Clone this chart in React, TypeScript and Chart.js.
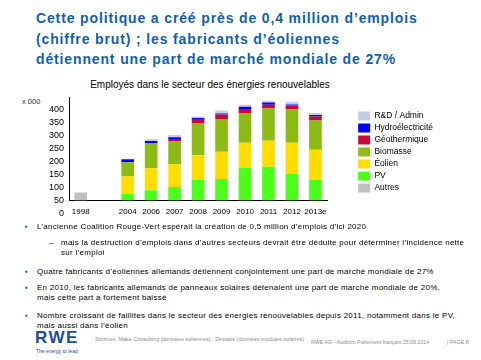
import React, { useEffect, useRef } from 'react';
import { Chart, registerables } from 'chart.js';

Chart.register(...registerables);

// ---- Data ----
const categories = ['1998', '', '2004', '2006', '2007', '2008', '2009', '2010', '2011', '2012', '2013e'];
const autres = [31, null, null, null, null, null, null, null, null, null, null];
const pv = [null, null, 24.6, 38.9, 52, 79, 83, 125.8, 129.7, 102.5, 79.1];
const eolien = [null, null, 68.8, 85.6, 88, 96, 105, 97.2, 101.2, 120.5, 116.7];
const biomasse = [null, null, 54.5, 97.3, 89.6, 124.5, 127.2, 115.5, 124.5, 128.5, 112.9];
const geothermie = [null, null, 0, 0, 7.8, 15.6, 16.8, 15.5, 14.2, 15.5, 15.6];
const hydro = [null, null, 11.6, 7.8, 6.6, 3.8, 4, 7.9, 9.1, 4, 6.4];
const rdAdmin = [null, null, 0, 7.8, 8.9, 5.3, 11.6, 7.7, 6.5, 10.3, 7.8];

const yTickLabels = ['0', '50', '100', '150', '200', '250', '300', '350', '400'];
const seriesNames = ['Autres', 'PV', 'Éolien', 'Biomasse', 'Géothermique', 'Hydroélectricité', 'R&D / Admin'];
const seriesColors = ['#C0C0C0', '#4CFF1A', '#FFDD00', '#8DBA14', '#C8073C', '#0000FF', '#C5CCE8'];
const seriesData = [autres, pv, eolien, biomasse, geothermie, hydro, rdAdmin];

const FONT = '"Liberation Sans", Arial, sans-serif';

const zeroLabelPlugin = {
  id: 'zeroLabel',
  afterDraw(chart: any) {
    const y = chart.scales.y;
    const ctx = chart.ctx;
    ctx.save();
    ctx.font = '9px "Liberation Sans"';
    ctx.fillStyle = '#000';
    ctx.textAlign = 'right';
    ctx.textBaseline = 'middle';
    ctx.fillText(yTickLabels[0], y.right - 5, y.getPixelForValue(-50));
    ctx.restore();
  },
};

function ChartCanvas() {
  const ref = useRef<HTMLCanvasElement>(null);
  useEffect(() => {
    if (!ref.current) return;
    const chart = new Chart(ref.current, {
      type: 'bar',
      data: {
        labels: categories,
        datasets: seriesData.map((d, i) => ({
          label: seriesNames[i],
          data: d,
          backgroundColor: seriesColors[i],
          borderWidth: 0,
          categoryPercentage: 1,
          barPercentage: 0.54,
          xAxisID: 'x',
          yAxisID: 'y',
        })),
      },
      options: {
        responsive: false,
        animation: false,
        layout: { padding: { left: 44, top: 0, right: 38, bottom: 2 } },
        plugins: {
          legend: {
            position: 'right',
            reverse: true,
            labels: {
              boxWidth: 12,
              boxHeight: 9,
              padding: 3,
              color: '#000',
              font: { family: FONT, size: 8.5 },
            },
          },
          title: { display: false },
          tooltip: { enabled: false },
        },
        scales: {
          x: {
            stacked: true,
            grid: { display: false, drawTicks: false },
            border: { display: true, color: '#000', width: 1 },
            ticks: { color: '#000', font: { family: FONT, size: 8 }, padding: 7, maxRotation: 0, autoSkip: false },
          },
          y: {
            stacked: true,
            min: 0,
            max: 400,
            grid: { display: false, drawTicks: false },
            border: { display: true, color: '#000', width: 1 },
            ticks: {
              stepSize: 50,
              autoSkip: false,
              color: '#000',
              padding: 5,
              font: { family: FONT, size: 9 },
              callback: (_v: any, i: number) => yTickLabels[i + 1] ?? '',
            },
          },
          gap: {
            type: 'linear',
            position: 'right',
            display: false,
            afterFit: (scale: any) => {
              scale.width = 28;
            },
          },
          topGap: {
            type: 'category',
            position: 'top',
            display: false,
            afterFit: (scale: any) => {
              scale.height = 17;
            },
          },
        },
      },
      plugins: [zeroLabelPlugin],
    });
    return () => chart.destroy();
  }, []);
  return (
    <canvas
      ref={ref}
      width={481}
      height={146}
      style={{ position: 'absolute', left: 0, top: 80, width: 481, height: 146 }}
    />
  );
}

const bulletStyle: React.CSSProperties = {
  position: 'absolute',
  left: 25,
  color: '#1A5EA8',
  fontSize: 8,
};

export default function App() {
  const textBase: React.CSSProperties = {
    position: 'absolute',
    fontFamily: FONT,
    fontSize: 8,
    letterSpacing: 0.27,
    lineHeight: '10px',
    color: '#000',
    whiteSpace: 'nowrap',
  };
  const bullets = [
    { top: 222, lines: ['L’ancienne Coalition Rouge-Vert espérait la création de 0,5 million d’emplois d’ici 2020'] },
    { top: 267, lines: ['Quatre fabricants d’éoliennes allemands détiennent conjointement une part de marché mondiale de 27%'] },
    { top: 283, lines: ['En 2010, les fabricants allemands de panneaux solaires détenaient une part de marché mondiale de 20%,', 'mais cette part a fortement baissé'] },
    { top: 311, lines: ['Nombre croissant de faillites dans le secteur des énergies renouvelables depuis 2011, notamment dans le PV,', 'mais aussi dans l’éolien'] },
  ];
  return (
    <div style={{ position: 'absolute', left: 0, top: 0, width: 481, height: 360, background: '#fff', fontFamily: FONT, overflow: 'hidden' }}>
      <div
        style={{
          position: 'absolute',
          left: 36,
          top: 8,
          fontSize: 14,
          lineHeight: '20.5px',
          fontWeight: 'bold',
          color: '#105FAF',
          whiteSpace: 'nowrap',
          letterSpacing: 0.86,
        }}
      >
        Cette politique a créé près de 0,4 million d’emplois<br />
        (chiffre brut) ; les fabricants d’éoliennes<br />
        détiennent une part de marché mondiale de 27%
      </div>

      <div
        style={{
          position: 'absolute',
          left: 60,
          width: 300,
          top: 78,
          textAlign: 'center',
          fontSize: 10,
          lineHeight: '14px',
          color: '#000',
          whiteSpace: 'nowrap',
        }}
      >
        Employés dans le secteur des énergies renouvelables
      </div>

      <div style={{ position: 'absolute', left: 22, top: 97, fontSize: 7.5, lineHeight: '10px', color: '#333' }}>x 000</div>

      <ChartCanvas />

      {bullets.map((b, i) => (
        <React.Fragment key={i}>
          <div style={{ ...bulletStyle, top: b.top, lineHeight: '10px' }}>▪</div>
          <div style={{ ...textBase, left: 37, top: b.top }}>
            {b.lines.map((l, j) => (
              <div key={j}>{l}</div>
            ))}
          </div>
        </React.Fragment>
      ))}
      <div style={{ ...textBase, left: 49, top: 238 }}>–</div>
      <div style={{ ...textBase, left: 61, top: 238 }}>
        <div>mais la destruction d’emplois dans d’autres secteurs devrait être déduite pour déterminer l’incidence nette</div>
        <div>sur l’emploi</div>
      </div>

      <div
        style={{
          position: 'absolute',
          left: 35,
          top: 329,
          fontSize: 17,
          lineHeight: '18px',
          fontWeight: 'bold',
          color: '#1C4E9C',
          letterSpacing: 1.5,
        }}
      >
        RWE
      </div>
      <div style={{ position: 'absolute', left: 36, top: 348, fontSize: 5, lineHeight: '6px', color: '#1C4E9C', whiteSpace: 'nowrap' }}>
        The energy to lead
      </div>
      <div style={{ position: 'absolute', left: 95, top: 336, fontSize: 5.5, lineHeight: '6px', color: '#8c8c8c', whiteSpace: 'nowrap' }}>
        Sources: Make Consulting (données éoliennes) ; Destatis (données modules solaires)
      </div>
      <div style={{ position: 'absolute', left: 311, top: 339, fontSize: 5.3, lineHeight: '6px', color: '#8c8c8c', whiteSpace: 'nowrap' }}>
        RWE AG - Audition Parlement français 25.09.2014
      </div>
      <div style={{ position: 'absolute', left: 447, top: 339, fontSize: 5.3, lineHeight: '6px', color: '#8c8c8c', whiteSpace: 'nowrap' }}>
        | PAGE 8
      </div>
    </div>
  );
}
